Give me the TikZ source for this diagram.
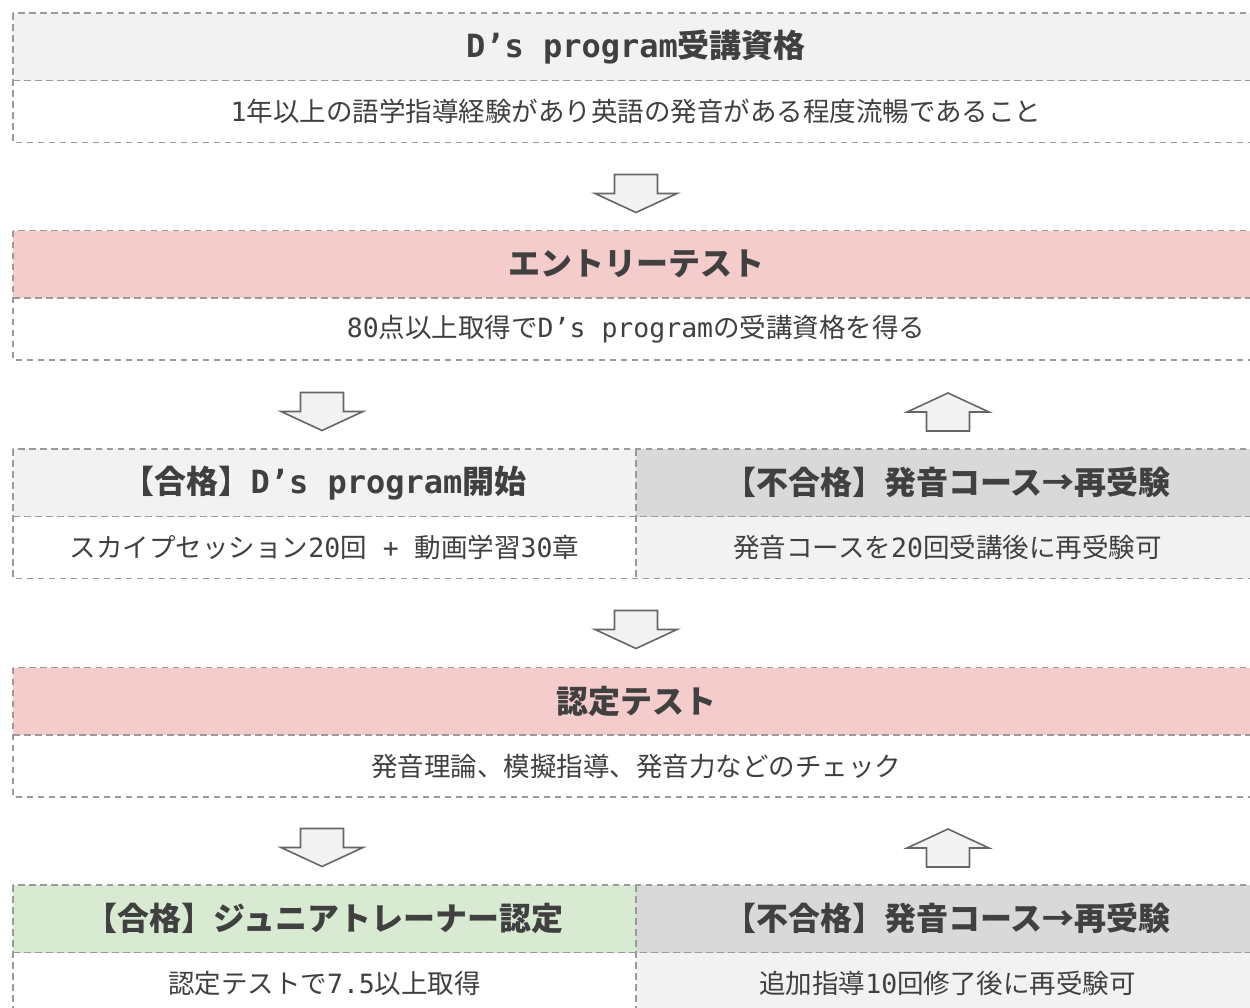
\documentclass[tikz,border=0pt]{standalone}
\usepackage{fontspec}
\setmainfont{Noto Sans CJK JP}
\newfontfamily\monolatin{DejaVu Sans Mono}
\usepackage{xcolor}
\usetikzlibrary{
	positioning,									% 节点的高级摆放
}

\definecolor{boxline}{HTML}{9A9A9A}
\definecolor{textgray}{HTML}{404040}
\definecolor{headgray}{HTML}{F2F2F2}
\definecolor{headpink}{HTML}{F4CCCC}
\definecolor{headdark}{HTML}{D9D9D9}
\definecolor{headgreen}{HTML}{D9EAD3}
\definecolor{arrowline}{HTML}{666666}
\definecolor{arrowfill}{HTML}{F2F2F2}

\newcommand{\mono}[1]{{\monolatin #1}}

\begin{document}
\begin{tikzpicture}[x=1pt, y=-1pt,
		box/.style={inner sep=0pt, outer sep=0pt, text=textgray},
		headbox/.style={box, minimum height=67.5pt, font=\fontsize{32}{36}\selectfont\bfseries},
		bodybox/.style={box, minimum height=62pt, font=\fontsize{26.5}{30}\selectfont},
		wide/.style={minimum width=1246pt},
		half/.style={minimum width=623pt},
		dashline/.style={draw=boxline, line width=1.4pt, dash pattern=on 6.5pt off 4.5pt},
		blockarrow/.style={draw=arrowline, fill=arrowfill, line width=1.6pt},
		pics/downarrow/.style={code={
			\draw[blockarrow] (-21.5,-19) -- (21.5,-19) -- (21.5,0) -- (41,0) -- (0,19) -- (-41,0) -- (-21.5,0) -- cycle;
		}},
		pics/uparrow/.style={code={
			\draw[blockarrow] (-21.5,19) -- (21.5,19) -- (21.5,0) -- (41,0) -- (0,-19) -- (-41,0) -- (-21.5,0) -- cycle;
		}},
	]
	\useasboundingbox (0,0) rectangle (1250,1007);
	\clip (0,0) rectangle (1250,1007);

	% 受講資格
	\node[headbox, wide, fill=headgray, anchor=north west] (h1) at (13,13) {\mono{D’s program}受講資格};
	\node[bodybox, wide, fill=white, below=0pt of h1] (b1) {\mono{1}年以上の語学指導経験があり英語の発音がある程度流暢であること};
	\draw[dashline] (h1.north west) rectangle (b1.south east);
	\draw[dashline] (h1.south west) -- (h1.south east);
	\pic at (636,193.5) {downarrow};

	% エントリーテスト
	\node[headbox, wide, fill=headpink, below=88pt of b1] (h2) {エントリーテスト};
	\node[bodybox, wide, fill=white, below=0pt of h2] (b2) {\mono{80}点以上取得で\mono{D’s program}の受講資格を得る};
	\draw[dashline] (h2.north west) rectangle (b2.south east);
	\draw[dashline] (h2.south west) -- (h2.south east);
	\pic at (322,411.5) {downarrow};
	\pic at (948,412) {uparrow};

	\node[headbox, half, fill=headgray, below=89pt of b2.south west, anchor=north west] (h3l) {【合格】\mono{D’s program}開始};
	\node[headbox, half, fill=headdark, right=0pt of h3l] (h3r) {【不合格】発音コース→再受験};
	\node[bodybox, half, fill=white, below=0pt of h3l] (b3l) {スカイプセッション\mono{20}回\mono{~+~}動画学習\mono{30}章};
	\node[bodybox, half, fill=headgray, below=0pt of h3r] (b3r) {発音コースを\mono{20}回受講後に再受験可};
	\draw[dashline] (h3l.north west) rectangle (b3r.south east);
	\draw[dashline] (h3l.south west) -- (h3r.south east);
	\draw[dashline] (h3l.north east) -- (b3l.south east);
	\pic at (636,629.5) {downarrow};

	% 認定テスト
	\node[headbox, wide, fill=headpink, below=89pt of b3l.south west, anchor=north west] (h4) {認定テスト};
	\node[bodybox, wide, fill=white, below=0pt of h4] (b4) {発音理論、模擬指導、発音力などのチェック};
	\draw[dashline] (h4.north west) rectangle (b4.south east);
	\draw[dashline] (h4.south west) -- (h4.south east);
	\pic at (322,847.5) {downarrow};
	\pic at (948,848) {uparrow};

	\node[headbox, half, fill=headgreen, below=88pt of b4.south west, anchor=north west] (h5l) {【合格】ジュニアトレーナー認定};
	\node[headbox, half, fill=headdark, right=0pt of h5l] (h5r) {【不合格】発音コース→再受験};
	\node[bodybox, half, fill=white, below=0pt of h5l] (b5l) {認定テストで\mono{7.5}以上取得};
	\node[bodybox, half, fill=headgray, below=0pt of h5r] (b5r) {追加指導\mono{10}回修了後に再受験可};
	\draw[dashline] (h5l.north west) rectangle (b5r.south east);
	\draw[dashline] (h5l.south west) -- (h5r.south east);
	\draw[dashline] (h5l.north east) -- (b5l.south east);
\end{tikzpicture}
\end{document}
